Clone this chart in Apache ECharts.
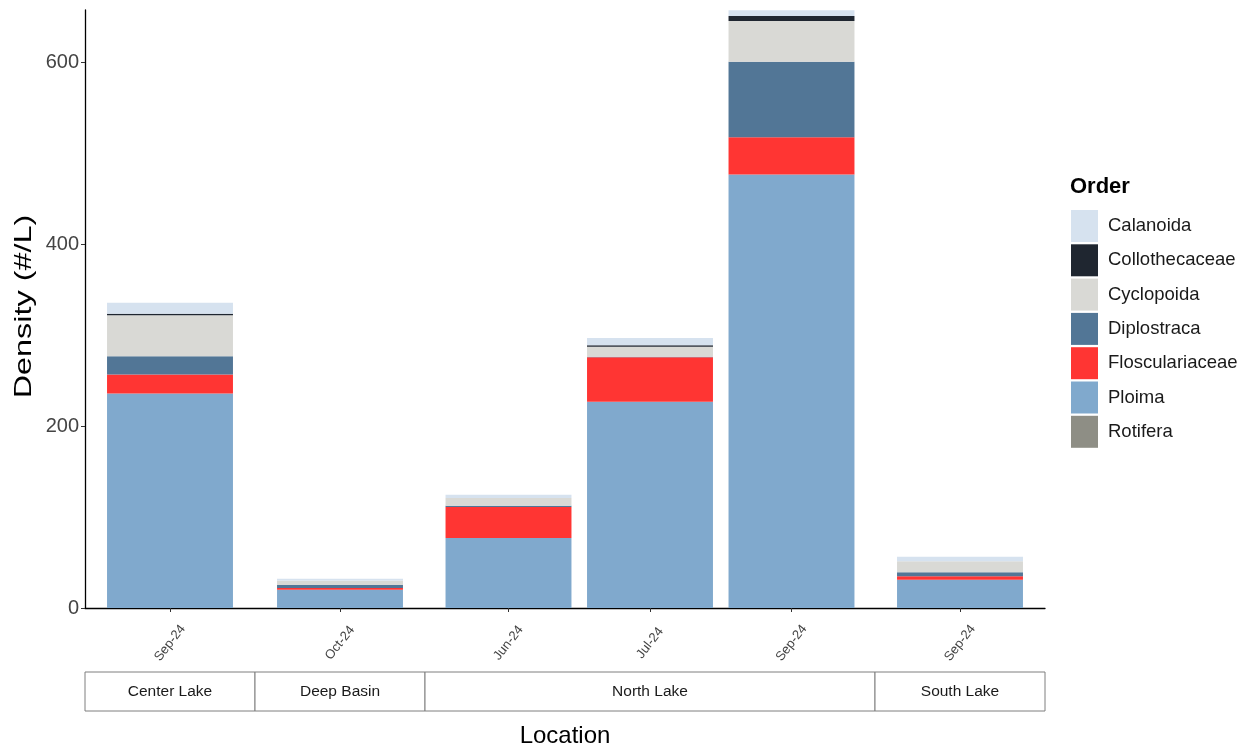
<!DOCTYPE html>
<html>
<head>
<meta charset="utf-8">
<script src="https://cdn.jsdelivr.net/npm/echarts@6/dist/echarts.min.js"></script>
<style>
html,body{margin:0;padding:0;background:#fff;}
#chart{width:1253px;height:751px;}
</style>
</head>
<body>
<div id="chart"></div>
<script>
// ---- data ----
const months = ['Sep-24', 'Oct-24', 'Jun-24', 'Jul-24', 'Sep-24', 'Sep-24'];
const locations = ['Center Lake', 'Deep Basin', 'North Lake', 'North Lake', 'North Lake', 'South Lake'];
const orders = ['Calanoida', 'Collothecaceae', 'Cyclopoida', 'Diplostraca', 'Flosculariaceae', 'Ploima', 'Rotifera'];
const calanoida      = [12,  2,   3.5, 8,   6.2, 5];
const collothecaceae = [1.8, 0,   0,   1.5, 5.5, 0];
const cyclopoida     = [45,  5,   8.5, 11,  45,  12];
const diplostraca    = [20,  3.3, 1.5, 0.5, 83,  4.4];
const flosculariaceae= [21,  2,   34,  49,  41,  4];
const ploima         = [236, 20,  77,  227, 477, 31];
const rotifera       = [0,   0,   0,   0,   0,   0];
const yTicks = [0, 200, 400, 600];
const yMax = 658;

const seriesValues = {
  Calanoida: calanoida, Collothecaceae: collothecaceae, Cyclopoida: cyclopoida,
  Diplostraca: diplostraca, Flosculariaceae: flosculariaceae, Ploima: ploima, Rotifera: rotifera
};
const colors = {
  Calanoida: '#d6e2ef', Collothecaceae: '#1f2630', Cyclopoida: '#d9d9d5',
  Diplostraca: '#527696', Flosculariaceae: '#ff3533', Ploima: '#80a9cd', Rotifera: '#8e8e85'
};

// ---- layout ----
const plotLeft = 85, plotRight = 1045, plotTop = 10, plotBottom = 608;
const FONT = "'Liberation Sans', Arial, sans-serif";

// panels (facets) from locations
const panels = [];
locations.forEach((loc, i) => {
  let p = panels.find(q => q.name === loc);
  if (!p) { p = { name: loc, idx: [] }; panels.push(p); }
  p.idx.push(i);
});
const singleW = 170;
const multiW = (plotRight - plotLeft) - panels.filter(p => p.idx.length === 1).length * singleW;
let cursor = plotLeft;
panels.forEach(p => {
  p.left = cursor;
  p.width = p.idx.length === 1 ? singleW : multiW;
  cursor += p.width;
});
const unit = 141.5;

const grids = [{ left: plotLeft, width: plotRight - plotLeft, top: plotTop, height: plotBottom - plotTop }];
const xAxes = [{
  gridIndex: 0, type: 'value', min: 0, max: 1,
  axisLine: { show: true, lineStyle: { color: '#000', width: 1.3 } },
  axisTick: { show: false }, axisLabel: { show: false }, splitLine: { show: false }
}];
const yAxes = [{
  gridIndex: 0, type: 'value', min: 0, max: yMax,
  axisLine: { show: true, lineStyle: { color: '#000', width: 1.3 } },
  axisTick: { show: true, length: 4, lineStyle: { color: '#333' }, customValues: yTicks },
  axisLabel: { customValues: yTicks, fontSize: 20, color: '#444', fontFamily: FONT, margin: 6 },
  splitLine: { show: false }
}];
const series = [];
const graphics = [];

panels.forEach((p, k) => {
  const gi = k + 1;
  const n = p.idx.length;
  const gw = n * unit;
  grids.push({ left: p.left + (p.width - gw) / 2, width: gw, top: plotTop, height: plotBottom - plotTop });
  xAxes.push({
    gridIndex: gi, type: 'category', data: p.idx.map(i => months[i]),
    axisLine: { show: false },
    axisTick: { show: true, alignWithLabel: true, length: 4, lineStyle: { color: '#333' } },
    axisLabel: { interval: 0, rotate: 52, fontSize: 13, color: '#444', fontFamily: FONT,
                 align: 'center', verticalAlign: 'middle', margin: 35 }
  });
  yAxes.push({ gridIndex: gi, type: 'value', min: 0, max: yMax, show: false });
  orders.slice().reverse().forEach(o => {
    series.push({
      name: o, type: 'bar', stack: 'panel' + k, xAxisIndex: gi, yAxisIndex: gi,
      barWidth: '89%',
      itemStyle: { color: colors[o] },
      emphasis: { disabled: true },
      data: p.idx.map(i => seriesValues[o][i])
    });
  });
  // facet strip
  graphics.push({
    type: 'rect', shape: { x: p.left, y: 672, width: p.width, height: 39 },
    style: { fill: '#fff', stroke: '#7f7f7f', lineWidth: 1 }, z: 10
  });
  graphics.push({
    type: 'text', x: p.left + p.width / 2, y: 692, z: 11,
    style: { text: p.name, fill: '#1a1a1a', font: '15.5px ' + FONT, textAlign: 'center', textVerticalAlign: 'middle' }
  });
});

// axis titles
graphics.push({
  type: 'text', x: (plotLeft + plotRight) / 2, y: 736, z: 11,
  style: { text: 'Location', fill: '#000', font: '24px ' + FONT, textAlign: 'center', textVerticalAlign: 'middle' }
});
graphics.push({
  type: 'text', x: 24.5, y: 306.5, z: 11, rotation: Math.PI / 2, scaleX: 1.35,
  style: { text: 'Density (#/L)', fill: '#000', font: '24px ' + FONT, textAlign: 'center', textVerticalAlign: 'middle' }
});

const chart = echarts.init(document.getElementById('chart'), null, { renderer: 'canvas' });
chart.setOption({
  animation: false,
  backgroundColor: '#fff',
  title: { text: 'Order', left: 1070, top: 176, padding: 0,
           textStyle: { fontSize: 22, fontWeight: 'bold', color: '#000', fontFamily: FONT } },
  legend: {
    orient: 'vertical', left: 1071, top: 210, padding: 0,
    itemWidth: 27, itemHeight: 32, itemGap: 2.3,
    icon: 'rect', selectedMode: false,
    data: orders,
    textStyle: { fontSize: 18.5, color: '#1a1a1a', fontFamily: FONT, padding: [0, 0, 0, 5] }
  },
  grid: grids,
  xAxis: xAxes,
  yAxis: yAxes,
  series: series,
  graphic: graphics
});
</script>
</body>
</html>
